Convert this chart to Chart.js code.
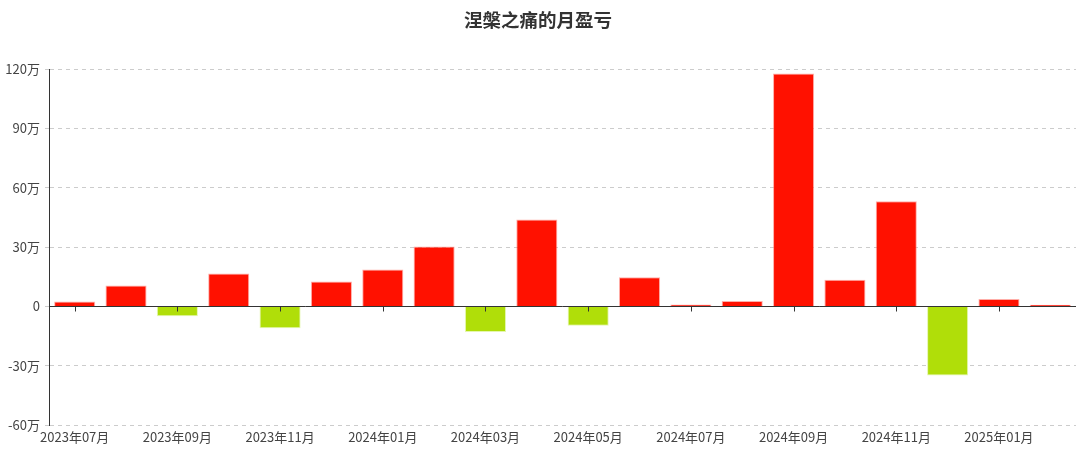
<!DOCTYPE html>
<html>
<head>
<meta charset="utf-8">
<script src="https://cdn.jsdelivr.net/npm/chart.js@4"></script>
<style>
  html, body { margin: 0; padding: 0; background: #fff; }
  #wrap { width: 1083px; height: 455px; }
</style>
</head>
<body>
<div id="wrap"><canvas id="myChart"></canvas></div>
<script>
// 月份
var months = ['2023年07月', '2023年08月', '2023年09月', '2023年10月', '2023年11月', '2023年12月',
  '2024年01月', '2024年02月', '2024年03月', '2024年04月', '2024年05月', '2024年06月',
  '2024年07月', '2024年08月', '2024年09月', '2024年10月', '2024年11月', '2024年12月',
  '2025年01月', '2025年02月'];
// 月盈亏 (万)
var profit = [2.5, 10.6, -5, 16.7, -11, 12.6, 18.7, 30.3, -13, 44, -9.8, 14.7,
  1.0, 2.7, 117.8, 13.5, 53.2, -35, 3.7, 0.8];
var yTicks = [-60, -30, 0, 30, 60, 90, 120];

(()=>{
  var font = '"Noto Sans CJK SC", "Noto Sans", sans-serif';

  // 零轴线和刻度
  var zeroAxis = {
    id: 'zeroAxis',
    afterDatasetsDraw(chart) {
      var c = chart.ctx, x = chart.scales.x, y = chart.scales.y;
      var y0 = Math.round(y.getPixelForValue(0)) + 0.5;
      c.save();
      c.strokeStyle = '#333';
      c.lineWidth = 1;
      c.beginPath();
      c.moveTo(chart.chartArea.left, y0);
      c.lineTo(chart.chartArea.right, y0);
      for (var i = 0; i < months.length; i += 2) {
        var px = Math.round(x.getPixelForValue(i)) + 0.5;
        c.moveTo(px, y0);
        c.lineTo(px, y0 + 5);
      }
      c.stroke();
      c.restore();
    }
  };

  var ctx = document.getElementById('myChart').getContext('2d');
  var myChart = new Chart(ctx, {
    type: 'bar',
    data: {
      labels: months,
      datasets: [{
        label: '月盈亏',
        data: profit,
        backgroundColor: profit.map(v => v >= 0 ? '#ff1100' : '#b0de09'),
        borderColor: profit.map(v => v >= 0 ? 'rgba(255,120,110,0.6)' : 'rgba(210,240,120,0.6)'),
        borderWidth: 1,
        barPercentage: 0.8,
        categoryPercentage: 1
      }]
    },
    options: {
      responsive: true,
      maintainAspectRatio: false,
      animation: false,
      layout: { padding: { left: 0, right: 7, top: 0, bottom: 0 } },
      plugins: {
        legend: { display: false },
        tooltip: { enabled: false },
        title: {
          display: true,
          text: '涅槃之痛的月盈亏',
          color: '#333',
          font: { family: font, size: 18.5, weight: 'bold' },
          padding: { top: 9, bottom: 38 }
        }
      },
      scales: {
        x: {
          grid: { display: false, drawTicks: false },
          border: { display: false },
          ticks: {
            autoSkip: false,
            maxRotation: 0,
            padding: 4,
            color: '#444',
            font: { family: font, size: 13 },
            callback: function (v, i) { return i % 2 === 0 ? months[i] : ''; }
          },
          afterFit: function (s) { s.height = 30; }
        },
        y: {
          min: -60,
          max: 120,
          afterBuildTicks: function (s) { s.ticks = yTicks.map(v => ({ value: v })); },
          grid: { color: '#ccc', drawTicks: true, tickLength: 4 },
          border: { display: true, color: '#333', dash: [4, 4] },
          ticks: {
            color: '#444',
            padding: 5,
            font: { family: font, size: 13 },
            callback: function (v) { return v === 0 ? '0' : v + '万'; }
          },
          afterFit: function (s) { s.width = 49; }
        }
      }
    },
    plugins: [zeroAxis]
  });

  myChart.update();
})();
</script>
</body>
</html>
